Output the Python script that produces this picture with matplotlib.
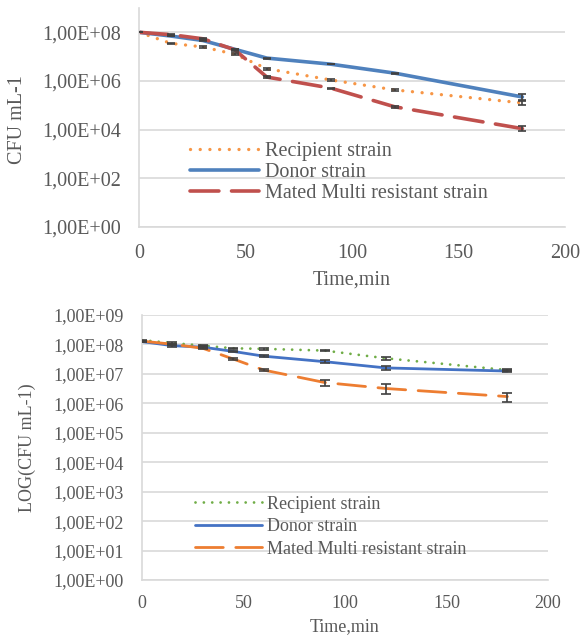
import matplotlib
matplotlib.use("Agg")
import matplotlib.pyplot as plt
import numpy as np

plt.rcParams["font.family"] = ["Liberation Serif", "DejaVu Serif"]

time_min = [0, 15, 30, 45, 60, 90, 120, 180]

# top panel (CFU mL-1)
top_recipient = [1.0e8, 3.5e7, 2.5e7, 1.25e7, 3.2e6, 1.1e6, 4.3e5, 1.25e5]
top_donor = [1.0e8, 7.0e7, 4.6e7, 2.0e7, 8.7e6, 4.9e6, 2.1e6, 2.2e5]
top_mated = [1.0e8, 8.0e7, 5.4e7, 1.9e7, 1.45e6, 5.1e5, 8.7e4, 1.1e4]
top_recipient_err = [2e6, 2e6, 1.5e6, 1e6, 2.5e5, 8e4, 5e4, 2.5e4]
top_donor_err = [2e6, 2e6, 1.5e6, 8e5, 4e5, 1.5e5, 1.2e5, 6e4]
top_mated_err = [2e6, 3e6, 2e6, 1.5e6, 1.2e5, 2.5e4, 1e4, 2.5e3]

# bottom panel (LOG(CFU mL-1))
bot_recipient = [1.4e8, 1.12e8, 9.1e7, 7.4e7, 7.1e7, 6.2e7, 3.4e7, 1.35e7]
bot_donor = [1.25e8, 9.1e7, 8.1e7, 5.8e7, 4.0e7, 2.6e7, 1.6e7, 1.25e7]
bot_mated = [1.3e8, 1.02e8, 7.4e7, 3.2e7, 1.35e7, 5.1e6, 3.2e6, 1.7e6]
bot_recipient_err = [4e6, 6e6, 5e6, 4e6, 4e6, 4e6, 3.5e6, 8e5]
bot_donor_err = [4e6, 6e6, 5e6, 4e6, 3e6, 3.4e6, 2.7e6, 8e5]
bot_mated_err = [4e6, 5e6, 5e6, 3e6, 1.2e6, 1.1e6, 1.2e6, 6e5]

legend_labels = ["Recipient strain", "Donor strain", "Mated Multi resistant strain"]

GRID = "#d9d9d9"
TEXT = "#595959"
ERR = "#404040"

fig = plt.figure(figsize=(5.82, 6.35), dpi=100)


def style_axis(ax, fs, ticks, pad_y, pad_x):
    ax.set_yscale("log")
    ax.set_ylim(1, 1e9)
    ax.set_xlim(0, 200)
    ax.set_xticks([0, 50, 100, 150, 200])
    ax.set_yticks(ticks)
    ax.set_yticklabels(["1,00E+%02d" % int(np.log10(t)) for t in ticks])
    ax.yaxis.set_minor_locator(matplotlib.ticker.NullLocator())
    ax.grid(axis="y", color=GRID, lw=1.2)
    ax.set_axisbelow(True)
    for s in ["top", "right"]:
        ax.spines[s].set_visible(False)
    ax.spines["left"].set_color(GRID)
    ax.spines["left"].set_linewidth(1.2)
    ax.spines["bottom"].set_color(GRID)
    ax.spines["bottom"].set_linewidth(1.2)
    ax.tick_params(axis="both", length=0, labelsize=fs, colors=TEXT)
    ax.tick_params(axis="y", pad=pad_y)
    ax.tick_params(axis="x", pad=pad_x)


def draw(ax, y, err, color, lw, dashes, capsize):
    line, = ax.plot(time_min, y, color=color, lw=lw, solid_capstyle="round",
                    dash_capstyle="round")
    if dashes is not None:
        line.set_dashes(dashes)
    ax.errorbar(time_min, y, yerr=err, fmt="none", ecolor=ERR, elinewidth=1.2,
                capsize=capsize, capthick=1.2, zorder=3)
    return line


# ---- top chart
ax1 = fig.add_axes([0.2388, 0.6425, 0.732, 0.345])
style_axis(ax1, 14.5, [1e0, 1e2, 1e4, 1e6, 1e8], 13, 12)
h1 = draw(ax1, top_recipient, top_recipient_err, "#f79646", 2.4, (0.01, 2.9), 3)
h2 = draw(ax1, top_donor, top_donor_err, "#4f81bd", 2.6, None, 3)
h3 = draw(ax1, top_mated, top_mated_err, "#c0504d", 2.6, (8, 3.5), 3)
ax1.set_xlabel("Time,min", fontsize=14.5, color=TEXT, labelpad=6)
ax1.set_ylabel("CFU mL-1", fontsize=14.5, color=TEXT)
ax1.yaxis.set_label_coords(-0.262, 0.49)
ax1.legend([h1, h2, h3], legend_labels, loc="upper left",
           bbox_to_anchor=(0.12, 0.39), frameon=False, fontsize=14.5,
           labelcolor=TEXT, handlelength=3.4, handletextpad=0.3,
           labelspacing=0.1, borderpad=0, borderaxespad=0)

# ---- bottom chart
ax2 = fig.add_axes([0.244, 0.0866, 0.6976, 0.4173])
style_axis(ax2, 13, [10.0 ** k for k in range(10)], 13, 11)
g1 = draw(ax2, bot_recipient, bot_recipient_err, "#70ad47", 2.0, (0.01, 3.0), 3.5)
g2 = draw(ax2, bot_donor, bot_donor_err, "#4472c4", 2.0, None, 3.5)
g3 = draw(ax2, bot_mated, bot_mated_err, "#ed7d31", 2.0, (10, 4.5), 3.5)
ax2.set_xlabel("Time,min", fontsize=13, color=TEXT, labelpad=4)
ax2.set_ylabel("LOG(CFU mL-1)", fontsize=13, color=TEXT)
ax2.yaxis.set_label_coords(-0.262, 0.5)
ax2.legend([g1, g2, g3], legend_labels, loc="upper left",
           bbox_to_anchor=(0.13, 0.318), frameon=False, fontsize=13,
           labelcolor=TEXT, handlelength=3.7, handletextpad=0.3,
           labelspacing=0.3, borderpad=0, borderaxespad=0)

fig.savefig("out.png", dpi=100)
